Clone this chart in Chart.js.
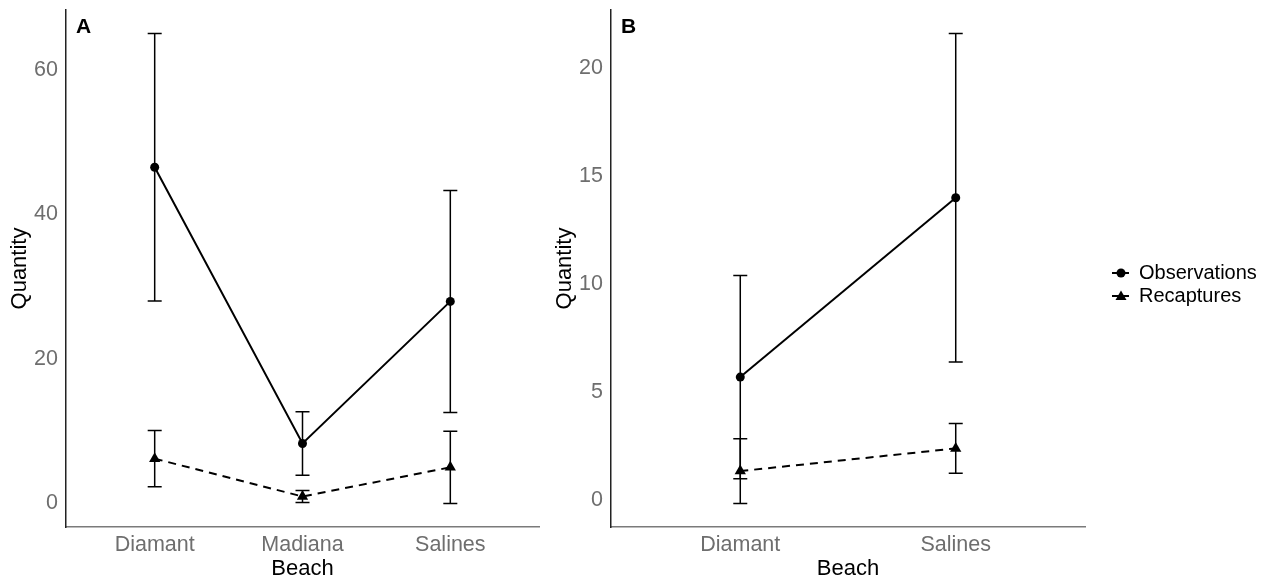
<!DOCTYPE html>
<html lang="en">
<head>
<meta charset="UTF-8">
<title>Observations and recaptures by beach</title>
<script src="https://cdn.jsdelivr.net/npm/chart.js@4.4.1/dist/chart.umd.min.js"></script>
<style>
  body { margin: 0; background: #fff; width: 1279px; height: 577px; overflow: hidden; position: relative; }
  canvas { position: absolute; top: 0; }
  #panelA { left: 0; }
  #panelB { left: 545px; }
</style>
</head>
<body>
<canvas id="panelA" width="560" height="577"></canvas>
<canvas id="panelB" width="734" height="577"></canvas>
<script>
  // panel A
  const beachesA = ["Diamant", "Madiana", "Salines"];
  const obsMeanA = [46.5, 8.3, 27.95];
  const obsSdA = [18.5, 4.4, 15.35];
  const recMeanA = [6.2, 0.97, 5.0];
  const recSdA = [3.9, 0.83, 5.0];
  const yTicksA = [0, 20, 40, 60];

  // panel B
  const beachesB = ["Diamant", "Salines"];
  const obsMeanB = [5.7, 14.0];
  const obsSdB = [4.7, 7.6];
  const recMeanB = [1.35, 2.4];
  const recSdB = [1.5, 1.15];
  const yTicksB = [0, 5, 10, 15, 20];

  const seriesNames = ["Observations", "Recaptures"];
  const FONT = "'Liberation Sans', Arial, sans-serif";

  // draws mean ± sd whiskers for every point
  const errorBars = {
    id: 'errorBars',
    afterDatasetsDraw(chart) {
      const ctx = chart.ctx, ys = chart.scales.y;
      ctx.save();
      ctx.strokeStyle = '#000';
      ctx.lineWidth = 1.5;
      chart.data.datasets.forEach((ds, i) => {
        chart.getDatasetMeta(i).data.forEach((pt, j) => {
          const m = ds.data[j].y, sd = ds.sd[j];
          const top = ys.getPixelForValue(m + sd), bot = ys.getPixelForValue(m - sd);
          ctx.beginPath();
          ctx.moveTo(pt.x, top); ctx.lineTo(pt.x, bot);
          ctx.moveTo(pt.x - 7, top); ctx.lineTo(pt.x + 7, top);
          ctx.moveTo(pt.x - 7, bot); ctx.lineTo(pt.x + 7, bot);
          ctx.stroke();
        });
      });
      ctx.restore();
    }
  };

  const panelLabel = {
    id: 'panelLabel',
    afterDraw(chart, args, opts) {
      const ctx = chart.ctx;
      ctx.save();
      ctx.font = "bold 21px " + FONT;
      ctx.fillStyle = '#000';
      ctx.textBaseline = 'middle';
      ctx.fillText(opts.text, chart.chartArea.left + 10, chart.chartArea.top + 17);
      ctx.restore();
    }
  };

  // legend keys: short line with the marker on it
  function legendIcon(shape) {
    const c = document.createElement('canvas');
    c.width = 41; c.height = 14;
    const g = c.getContext('2d');
    g.strokeStyle = '#000'; g.fillStyle = '#000'; g.lineWidth = 2;
    g.beginPath(); g.moveTo(24, 7); g.lineTo(41, 7); g.stroke();
    g.beginPath();
    if (shape === 'circle') {
      g.arc(33, 7, 4.5, 0, Math.PI * 2);
    } else {
      g.moveTo(33, 1.5); g.lineTo(38.5, 11); g.lineTo(27.5, 11); g.closePath();
    }
    g.fill();
    return c;
  }
  const icons = [legendIcon('circle'), legendIcon('triangle')];

  function pts(means) {
    return means.map((v, i) => ({ x: i + 1, y: v }));
  }

  function yRange(means, sds) {
    const lo = Math.min(...means.map((m, i) => m - sds[i]));
    const hi = Math.max(...means.map((m, i) => m + sds[i]));
    const pad = (hi - lo) * 0.05;
    return [lo - pad, hi + pad];
  }

  function makeChart(id, label, cats, obsM, obsS, recM, recS, yTicks, showLegend, padRight) {
    const [yMin, yMax] = yRange(obsM.concat(recM), obsS.concat(recS));
    return new Chart(document.getElementById(id), {
      type: 'line',
      data: {
        datasets: [
          {
            label: seriesNames[0],
            data: pts(obsM),
            sd: obsS,
            borderColor: '#000',
            backgroundColor: '#000',
            borderWidth: 2,
            pointStyle: 'circle',
            pointRadius: 4.5,
            pointBorderWidth: 0
          },
          {
            label: seriesNames[1],
            data: pts(recM),
            sd: recS,
            borderColor: '#000',
            backgroundColor: '#000',
            borderWidth: 2,
            borderDash: [8, 6],
            pointStyle: 'triangle',
            pointRadius: 6.5,
            pointBorderWidth: 0
          }
        ]
      },
      options: {
        responsive: false,
        animation: false,
        layout: { padding: { top: 10, right: padRight, bottom: 0, left: 0 } },
        plugins: {
          tooltip: { enabled: false },
          panelLabel: { text: label },
          legend: {
            display: showLegend,
            position: 'right',
            align: 'start',
            title: { display: true, text: '', padding: { top: 0, bottom: 226 }, font: { size: 20, family: FONT, lineHeight: 1.2 } },
            labels: {
              usePointStyle: true,
              pointStyleWidth: 41,
              padding: 3,
              color: '#000',
              font: { size: 20, family: FONT },
              generateLabels: chart => chart.data.datasets.map((ds, i) => ({
                text: ds.label,
                pointStyle: icons[i],
                datasetIndex: i,
                fillStyle: '#000',
                strokeStyle: '#000',
                fontColor: '#000',
                lineWidth: 0,
                hidden: false
              }))
            }
          }
        },
        scales: {
          x: {
            type: 'linear',
            min: 0.4,
            max: cats.length + 0.6,
            grid: { display: false, drawTicks: false },
            border: { display: true, color: '#7a7a7a', width: 1.5 },
            afterBuildTicks: s => { s.ticks = cats.map((c, i) => ({ value: i + 1 })); },
            afterFit: s => { s.height = 50; s.paddingLeft = 0; s.paddingRight = 0; },
            ticks: {
              padding: 5,
              color: '#6e6e6e',
              font: { size: 21.5, family: FONT },
              maxRotation: 0,
              callback: v => cats[v - 1]
            },
            title: {
              display: true, text: 'Beach', color: '#000',
              font: { size: 22, family: FONT, lineHeight: 1 }, padding: { top: 0, bottom: -3 }
            }
          },
          y: {
            min: yMin,
            max: yMax,
            grid: { display: false, drawTicks: false },
            border: { display: true, color: '#222', width: 1.5 },
            afterBuildTicks: s => { s.ticks = yTicks.map(v => ({ value: v })); },
            afterFit: s => { s.width = 66; s.paddingTop = 0; s.paddingBottom = 0; },
            ticks: {
              padding: 8,
              color: '#6e6e6e',
              font: { size: 21.5, family: FONT }
            },
            title: {
              display: true, text: 'Quantity', color: '#000',
              font: { size: 22, family: FONT, lineHeight: 1.2 }, padding: { top: 7, bottom: 0 }
            }
          }
        }
      },
      plugins: [errorBars, panelLabel]
    });
  }

  makeChart('panelA', 'A', beachesA, obsMeanA, obsSdA, recMeanA, recSdA, yTicksA, false, 21);
  makeChart('panelB', 'B', beachesB, obsMeanB, obsSdB, recMeanB, recSdB, yTicksB, true, 14);
</script>
</body>
</html>
